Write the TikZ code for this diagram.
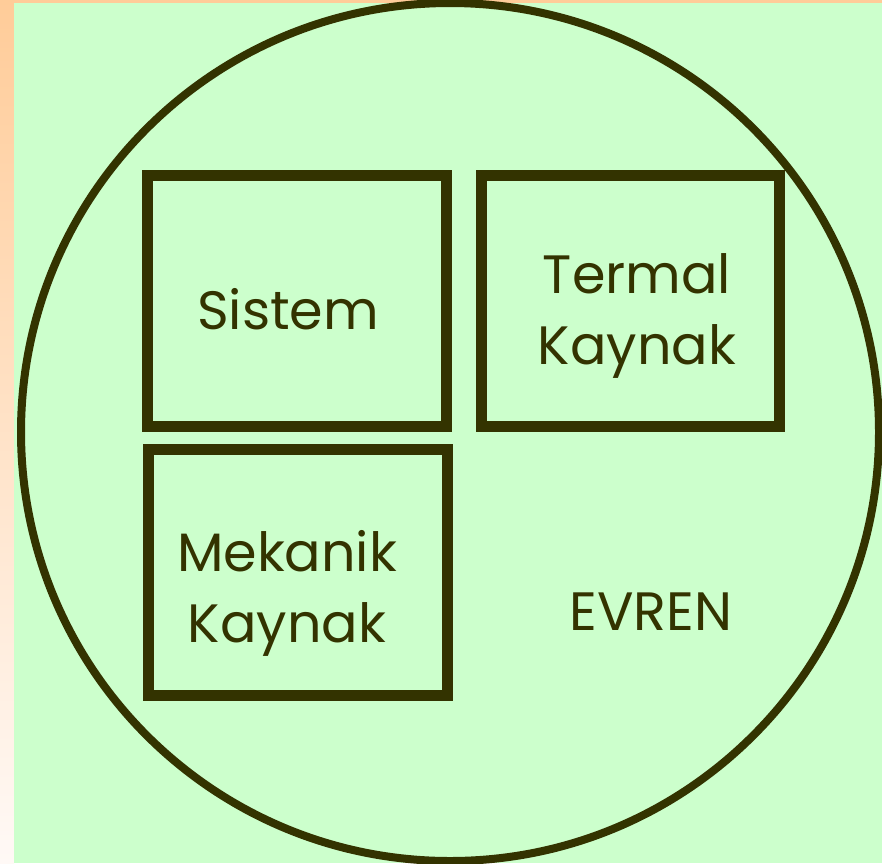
\documentclass[tikz,border=0pt]{standalone}
\usepackage{fontspec}
\setmainfont{Poppins}
\definecolor{evink}{HTML}{333300}
\definecolor{evgreen}{HTML}{CCFFCC}
\definecolor{evpeach}{HTML}{FFCC99}
\definecolor{evpale}{HTML}{FFF9F6}
\usetikzlibrary{positioning}
\tikzset{
	evbox/.style={draw=evink, line width=11pt, inner sep=0pt,
		minimum width=299pt, minimum height=251pt},
	evtext/.style={text=evink, align=center, inner sep=0pt,
		font=\fontsize{54}{71}\selectfont}
}

\begin{document}
\begin{tikzpicture}[x=1pt, y=-1pt]
	\useasboundingbox (0,0) rectangle (882,863);
	% background
	\shade[top color=evpeach, bottom color=evpale] (0,0) rectangle (14,863);
	\fill[evpeach] (0,0) rectangle (882,3);
	\fill[evgreen] (14,3) rectangle (882,863);
	\node[circle, draw=evink, line width=8pt, inner sep=0pt,
		minimum size=858pt] (evren c) at (450,432) {};
	% boxes
	\node[evbox] (sistem) at (296.5,301) {};
	\node[evbox, minimum width=298pt] (termal) at (630,301) {};
	\node[evbox, minimum width=299pt, minimum height=246pt] (mekanik) at (297.5,572) {};
	% labels
	\node[evtext, anchor=base] (sistem t) at (288,329) {Sistem};
	\node[evtext] (termal t) at (637,316) {Termal\\Kaynak};
	\node[evtext] (mekanik t) at (287,593) {Mekanik\\Kaynak};
	\node[evtext, anchor=base] (evren t) at (651,630) {EVREN};
\end{tikzpicture}
\end{document}
